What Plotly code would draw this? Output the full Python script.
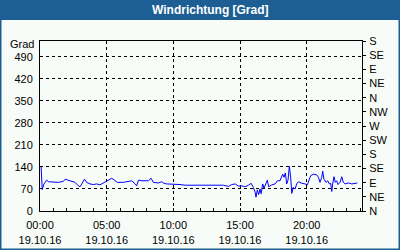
import plotly.graph_objects as go

# ---- data ----
date = "2016-10-19"
times = [
    "00:05","00:10","00:18","00:30","00:38","01:00","01:23","01:45","01:53","02:15",
    "02:38","02:53","03:00","03:08","03:20","03:30","03:45","04:00","04:15","04:30",
    "04:45","05:00","05:15","05:23","05:38","05:48","06:15","06:38","06:53","07:08",
    "07:15","07:23","07:38","08:08","08:20","08:30","08:53","09:08","09:15","09:30",
    "09:45","10:00","10:30","10:53","11:15","11:45","12:15","12:45","13:15","13:45",
    "14:08","14:23","14:38","14:53","15:08","15:23","15:38","15:50","16:00","16:08",
    "16:12","16:18","16:24","16:30","16:35","16:42","16:48","16:57","17:03","17:09",
    "17:23","17:38","17:48","18:00","18:12","18:18","18:24","18:30","18:36","18:42",
    "18:48","18:53","19:00","19:08","19:15","19:23","19:38","19:53","20:03","20:12",
    "20:18","20:30","20:45","20:53","21:00","21:08","21:12","21:18","21:27","21:35",
    "21:42","21:48","21:53","21:57","22:03","22:09","22:15","22:21","22:30","22:38",
    "22:45","22:53","23:08","23:23","23:38","23:48",
]
direction = [
    140, 68, 86, 98, 93, 93, 91, 94, 101, 96,
    91, 80, 77, 86, 101, 91, 86, 84, 86, 83,
    89, 96, 101, 104, 96, 91, 91, 94, 96, 86,
    80, 98, 96, 96, 104, 91, 89, 93, 89, 86,
    86, 84, 84, 82, 82, 83, 83, 82, 83, 82,
    78, 84, 86, 79, 80, 77, 82, 88, 75, 60,
    44, 67, 52, 70, 55, 86, 73, 91, 98, 77,
    83, 86, 96, 96, 117, 107, 121, 86, 98, 142,
    107, 56, 75, 70, 86, 93, 88, 86, 83, 101,
    112, 117, 115, 107, 91, 107, 127, 101, 91, 96,
    86, 88, 62, 86, 109, 91, 96, 84, 91, 109,
    91, 86, 89, 86, 88, 89,
]
left_ticks = [0, 70, 140, 210, 280, 350, 420, 490]
right_ticks = [0, 45, 90, 135, 180, 225, 270, 315, 360, 405, 450, 495, 540]
right_labels = ["N", "NE", "E", "SE", "S", "SW", "W", "NW", "N", "NE", "E", "SE", "S"]
title = "Windrichtung [Grad]"
unit = "Grad"

assert len(times) == len(direction)
x = [f"{date} {t}" for t in times]

W, H = 400, 250
ML, MR, MT, MB = 40, 38, 41, 39
PW, PH = W - ML - MR, H - MT - MB
BLUE = "#1D5F94"
BG = "#F8FCF8"
FONT = "Liberation Sans"

def px(xp):
    return (xp - ML) / PW

def py(yp):
    return (H - MB - yp) / PH

fig = go.Figure()
fig.add_trace(go.Scatter(x=x, y=direction, mode="lines",
                         line=dict(color="#0000FF", width=1), showlegend=False))
fig.add_trace(go.Scatter(x=[x[0]], y=[0], yaxis="y2", mode="markers",
                         marker=dict(opacity=0), showlegend=False, hoverinfo="skip"))

fig.update_layout(
    width=W, height=H,
    margin=dict(l=ML, r=MR, t=MT, b=MB, pad=0, autoexpand=False),
    paper_bgcolor=BG, plot_bgcolor=BG,
    font=dict(family=FONT, size=11, color="black"),
    xaxis=dict(
        type="date", automargin=False,
        range=[f"{date} 00:00", "2016-10-20 00:09"],
        tick0=f"{date} 00:00", dtick=5 * 3600 * 1000,
        tickformat="%H:%M<br>%d.%m.%y",
        ticks="inside", ticklen=3, tickcolor="black",
        showline=True, linecolor="black", linewidth=1, mirror=True,
        showgrid=True, gridcolor="black", griddash="3px,3px", gridwidth=1,
        zeroline=False,
        minor=dict(dtick=3600 * 1000, ticks="inside", ticklen=3, tickcolor="black", showgrid=False),
        ticklabelstandoff=4,
    ),
    yaxis=dict(
        range=[0, 540], tickvals=left_ticks, automargin=False,
        ticks="", showline=True, linecolor="black", linewidth=1,
        showgrid=True, gridcolor="black", griddash="3px,3px", gridwidth=1,
        zeroline=False, ticklabelstandoff=4, fixedrange=True,
    ),
    yaxis2=dict(
        range=[0, 540], tickvals=right_ticks, ticktext=right_labels, automargin=False,
        overlaying="y", side="right",
        ticks="outside", ticklen=3, tickcolor="black",
        showline=True, linecolor="black", linewidth=1,
        showgrid=False, zeroline=False, ticklabelstandoff=1,
    ),
    shapes=[
        dict(type="rect", xref="paper", yref="paper",
             x0=px(0), x1=px(W), y0=py(20), y1=py(0),
             fillcolor=BLUE, line=dict(width=0), layer="above"),
        dict(type="rect", xref="paper", yref="paper",
             x0=px(0), x1=px(W), y0=py(H), y1=py(0),
             fillcolor="rgba(0,0,0,0)", line=dict(color=BLUE, width=3), layer="above"),
    ],
    annotations=[
        dict(text=f"<b>{title}</b>", xref="paper", yref="paper",
             x=px(210), y=py(10), xanchor="center", yanchor="middle",
             showarrow=False, font=dict(family=FONT, size=12, color="white")),
        dict(text=unit, xref="paper", yref="paper",
             x=px(36), y=py(44), xanchor="right", yanchor="middle",
             showarrow=False, font=dict(family=FONT, size=11, color="black")),
    ],
)

fig.write_html("out.html")
